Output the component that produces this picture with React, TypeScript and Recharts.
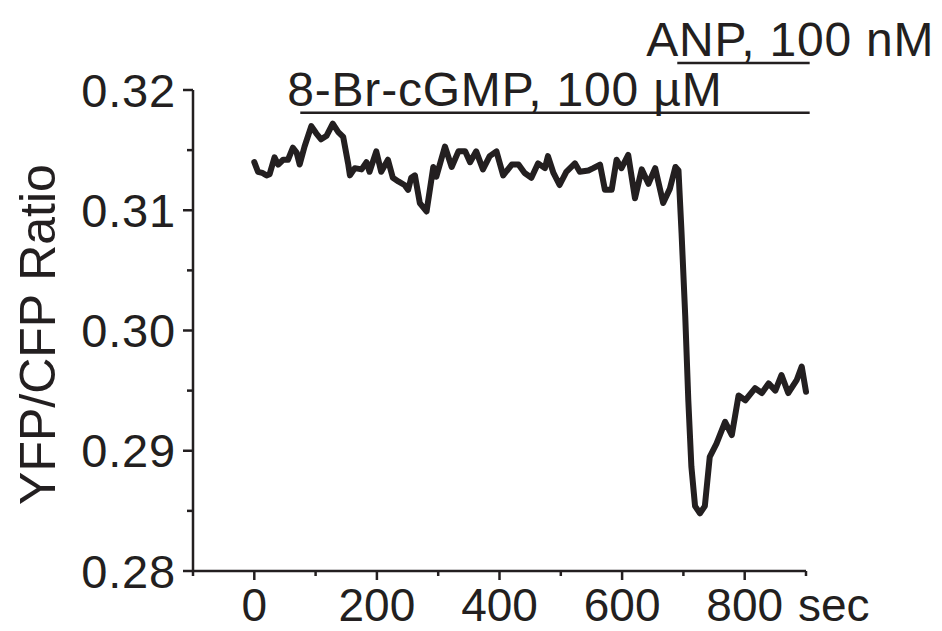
import React from 'react';
import { LineChart, Line, XAxis, YAxis, ReferenceLine, Label } from 'recharts';

const timeSec = [
  0, 6, 13, 20, 25, 33, 39, 47, 55, 63, 69, 74, 82, 93, 101, 109, 118, 128, 137, 145,
  153, 156, 164, 175, 183, 188, 199, 207, 218, 226, 235, 245, 251, 256, 262, 270, 281, 292, 297, 311,
  322, 333, 344, 352, 362, 373, 384, 395, 406, 420, 431, 441, 452, 463, 474, 479, 488, 498, 509, 523,
  531, 545, 553, 564, 572, 583, 591, 599, 610, 621, 632, 643, 654, 667, 678, 687, 692, 697, 703, 708,
  713, 719, 727, 735, 743, 754, 768, 779, 790, 801, 817, 828, 839, 850, 860, 871, 885, 893, 900,
];
const yfpCfpRatio = [
  0.3140, 0.3132, 0.3131, 0.3129, 0.3130, 0.3144, 0.3138, 0.3142, 0.3142, 0.3152, 0.3148, 0.3138, 0.3153, 0.3170, 0.3164, 0.3159, 0.3162, 0.3172, 0.3165, 0.3161,
  0.3139, 0.3129, 0.3135, 0.3134, 0.3140, 0.3132, 0.3149, 0.3132, 0.3142, 0.3127, 0.3124, 0.3121, 0.3117, 0.3127, 0.3129, 0.3106, 0.3099, 0.3136, 0.3128, 0.3153,
  0.3136, 0.3149, 0.3149, 0.3140, 0.3149, 0.3134, 0.3145, 0.3149, 0.3129, 0.3138, 0.3138, 0.3131, 0.3127, 0.3139, 0.3135, 0.3145, 0.3131, 0.3121, 0.3132, 0.3139,
  0.3132, 0.3133, 0.3135, 0.3138, 0.3117, 0.3117, 0.3142, 0.3135, 0.3146, 0.3110, 0.3134, 0.3122, 0.3135, 0.3106, 0.3118, 0.3136, 0.3133, 0.3081, 0.3012, 0.2942,
  0.2887, 0.2854, 0.2848, 0.2854, 0.2895, 0.2906, 0.2924, 0.2913, 0.2946, 0.2942, 0.2952, 0.2948, 0.2956, 0.2950, 0.2963, 0.2948, 0.2959, 0.2970, 0.2949,
];

const xTicks = [-100, 0, 100, 200, 300, 400, 500, 600, 700, 800, 900];
const yTicks = [0.28, 0.285, 0.29, 0.295, 0.3, 0.305, 0.31, 0.315, 0.32];
const yMajorLabels: Record<string, string> = { '0.28': '0.28', '0.29': '0.29', '0.3': '0.30', '0.31': '0.31', '0.32': '0.32' };

const brStart = 75;
const anpStart = 690;
const treatEnd = 906;
const brLevel = 0.3181;
const anpLevel = 0.32225;
const brText = '8-Br-cGMP, 100 µM';
const anpText = 'ANP, 100 nM';
const yTitle = 'YFP/CFP Ratio';
const xUnit = 'sec';

const data = timeSec.map((t, i) => ({ t, r: yfpCfpRatio[i] }));

const INK = '#231f20';
const FONT = '"Liberation Sans", Arial, Helvetica, sans-serif';

const XTick = (props: any) => {
  const { x, y, payload } = props;
  const v = payload.value;
  const major = v % 200 === 0;
  return (
    <g>
      <line x1={x} y1={y} x2={x} y2={y + (major ? 9 : 5)} stroke={INK} strokeWidth={2.5} />
      {major && (
        <text x={x} y={y + 50} textAnchor="middle" fontSize={46} fill={INK} fontFamily={FONT}>
          {v}
        </text>
      )}
    </g>
  );
};

const YTick = (props: any) => {
  const { x, y, payload } = props;
  const key = String(Math.round(payload.value * 1000) / 1000);
  const label = yMajorLabels[key];
  const major = label !== undefined;
  return (
    <g>
      <line x1={x} y1={y} x2={x - (major ? 10 : 6)} y2={y} stroke={INK} strokeWidth={2.5} />
      {major && (
        <text x={x - 17} y={y + 16.5} textAnchor="end" fontSize={47} letterSpacing={0.8} fill={INK} fontFamily={FONT}>
          {label}
        </text>
      )}
    </g>
  );
};

const barLabel = (text: string, dx: number) => (props: any) => {
  const vb = props.viewBox || {};
  return (
    <text x={vb.x + dx} y={vb.y - 7} textAnchor="start" fontSize={48} letterSpacing={0.8} fill={INK} fontFamily={FONT}>
      {text}
    </text>
  );
};

const yTitleContent = (props: any) => {
  const vb = props.viewBox || {};
  const cx = 55;
  const cy = vb.y + vb.height / 2 + 4;
  return (
    <text x={cx} y={cy} transform={`rotate(-90 ${cx} ${cy})`} textAnchor="middle" fontSize={50} fill={INK} fontFamily={FONT}>
      {yTitle}
    </text>
  );
};

const xUnitContent = (props: any) => {
  const vb = props.viewBox || {};
  return (
    <text x={vb.x + vb.width - 8} y={vb.y + 50} textAnchor="start" fontSize={46} fill={INK} fontFamily={FONT}>
      {xUnit}
    </text>
  );
};

export default function App() {
  return (
    <div style={{ position: 'absolute', left: 0, top: 0, width: 942, height: 631, background: '#fff' }}>
      <LineChart width={942} height={631} data={data} margin={{ top: 90, right: 136, bottom: 0, left: 0 }}>
        <XAxis
          dataKey="t"
          type="number"
          domain={[-100, 900]}
          ticks={xTicks}
          interval={0}
          height={60}
          tickSize={0}
          tickMargin={0}
          tickLine={false}
          axisLine={{ stroke: INK, strokeWidth: 2.5 }}
          tick={<XTick />}
        >
          <Label content={xUnitContent} />
        </XAxis>
        <YAxis
          type="number"
          domain={[0.28, 0.32]}
          ticks={yTicks}
          interval={0}
          width={193}
          tickSize={0}
          tickMargin={0}
          tickLine={false}
          axisLine={{ stroke: INK, strokeWidth: 2.5 }}
          tick={<YTick />}
        >
          <Label content={yTitleContent} />
        </YAxis>
        <ReferenceLine
          segment={[{ x: brStart, y: brLevel }, { x: treatEnd, y: brLevel }]}
          stroke={INK}
          strokeWidth={2.5}
          ifOverflow="visible"
          label={barLabel(brText, -13)}
        />
        <ReferenceLine
          segment={[{ x: anpStart, y: anpLevel }, { x: treatEnd, y: anpLevel }]}
          stroke={INK}
          strokeWidth={2.5}
          ifOverflow="visible"
          label={barLabel(anpText, -31)}
        />
        <Line
          dataKey="r"
          type="linear"
          stroke={INK}
          strokeWidth={6}
          strokeLinejoin="round"
          strokeLinecap="round"
          dot={false}
          isAnimationActive={false}
        />
      </LineChart>
    </div>
  );
}
